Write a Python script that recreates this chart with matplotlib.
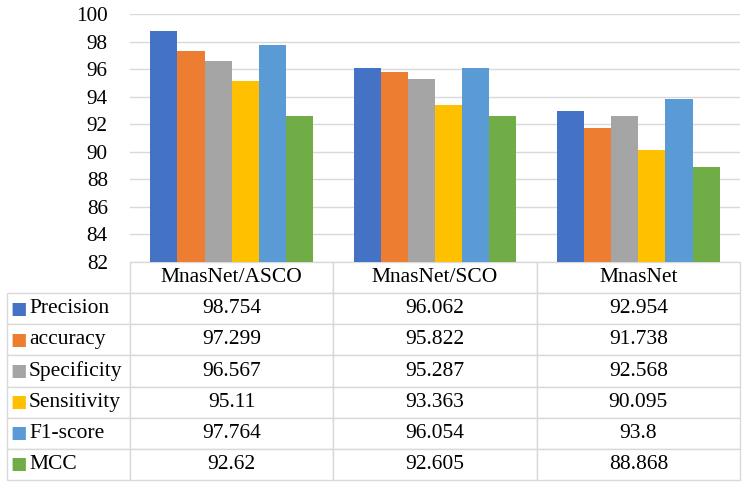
import numpy as np
import matplotlib.pyplot as plt

plt.rcParams['font.family'] = ['Liberation Serif', 'DejaVu Serif']

models = ["MnasNet/ASCO", "MnasNet/SCO", "MnasNet"]
metrics = ["Precision", "accuracy", "Specificity", "Sensitivity", "F1-score", "MCC"]
precision = [98.754, 96.062, 92.954]
accuracy = [97.299, 95.822, 91.738]
specificity = [96.567, 95.287, 92.568]
sensitivity = [95.11, 93.363, 90.095]
f1_score = [97.764, 96.054, 93.8]
mcc = [92.62, 92.605, 88.868]
series = [precision, accuracy, specificity, sensitivity, f1_score, mcc]
colors = ["#4472C4", "#ED7D31", "#A5A5A5", "#FFC000", "#5B9BD5", "#70AD47"]

fig = plt.figure(figsize=(7.46, 4.87), dpi=100)
ax = fig.add_axes([130/746, 1 - 262/487, 610/746, 248/487])

x = np.arange(len(models))
w = 0.8 / len(metrics)
for i, (vals, c) in enumerate(zip(series, colors)):
    ax.bar(x - 0.4 + w*(i + 0.5), vals, w, color=c, zorder=3)

ax.set_xlim(-0.5, len(models) - 0.5)
ax.set_ylim(82, 100)
ax.set_yticks(np.arange(82, 101, 2))
ax.tick_params(axis='y', length=0, labelsize=15.3, pad=16)
ax.set_xticks([])
ax.grid(axis='y', color="#d9d9d9", lw=1, zorder=0)
for s in ax.spines.values():
    s.set_visible(False)

# data table under the bars
cell_text = [[f"{v:g}" for v in vals] for vals in series]
lab_w = 123 / 610
tbl_h = 218 / 248
ncol = len(models)
tbl = ax.table(cellText=cell_text, colLabels=models, cellLoc='center',
               colWidths=[1 / ncol] * ncol, bbox=[0, -tbl_h, 1, tbl_h])
# row-label column with fixed width (text drawn separately with colour key)
for r in range(1, len(metrics) + 1):
    tbl.add_cell(r, -1, width=lab_w, height=tbl[r, 0].get_height(), text="")
tbl.auto_set_font_size(False)
tbl.set_fontsize(15.5)
for cell in tbl.get_celld().values():
    cell.set_edgecolor("#d9d9d9")
    cell.set_linewidth(1)

row_h = tbl_h / (len(metrics) + 1)
for i, (name, c) in enumerate(zip(metrics, colors)):
    yc = -row_h * (i + 1.5)
    ax.text(-lab_w + 3/610, yc, "■", color=c, fontsize=12.5, va='center',
            ha='left', transform=ax.transAxes, clip_on=False,
            family='DejaVu Sans')
    ax.text(-lab_w + 22/610, yc, name, fontsize=15.5, va='center',
            ha='left', transform=ax.transAxes, clip_on=False)

fig.savefig("out.png", dpi=100)
